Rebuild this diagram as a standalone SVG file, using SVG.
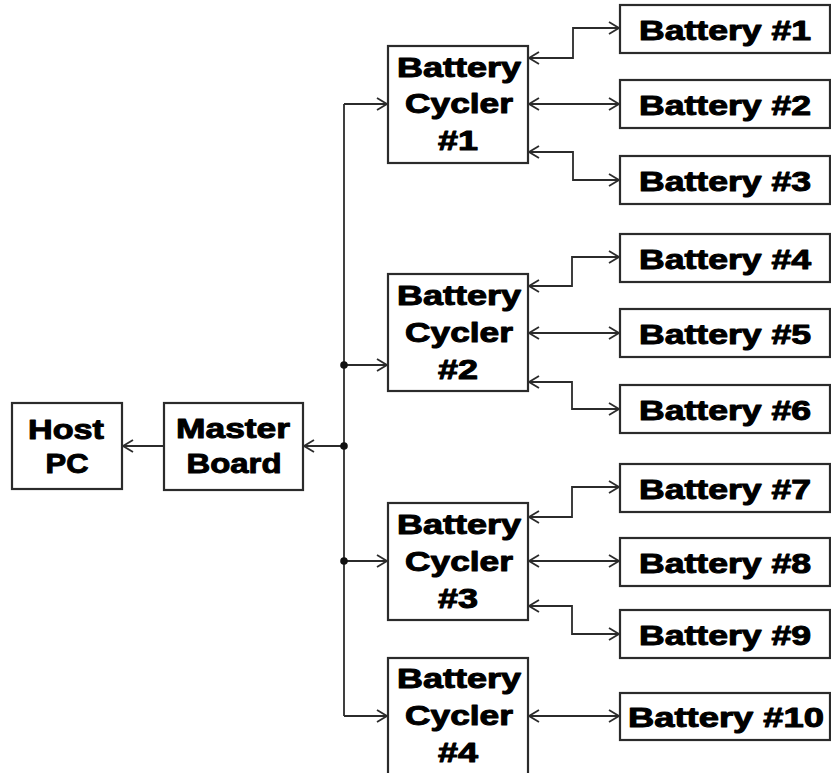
<svg xmlns="http://www.w3.org/2000/svg" width="831" height="773" viewBox="0 0 831 773">
<style>
  .box { fill: #ffffff; stroke: #2b2b2b; stroke-width: 2.2; }
  .t { font-family: "Liberation Sans", Arial, sans-serif; font-weight: bold; fill: #000; stroke: #000; stroke-width: 1; stroke-linejoin: round; text-anchor: middle; }
  .s { font-size: 27px; }
  .l { font-size: 28.5px; }
  .c { fill: none; stroke: #2b2b2b; stroke-width: 1.8; }
  .a { marker-end: url(#arr); }
  .b { marker-start: url(#arr); marker-end: url(#arr); }
</style>
<defs>
  <marker id="arr" markerUnits="userSpaceOnUse" markerWidth="14" markerHeight="16" refX="11" refY="7" orient="auto-start-reverse" viewBox="0 0 14 14">
    <path d="M1,1 L11,7 L1,13" fill="none" stroke="#2b2b2b" stroke-width="1.8"/>
  </marker>
</defs>
<rect width="831" height="773" fill="#ffffff"/>

<g id="connectors">
  <path class="c a" d="M163,446 H123"/>
  <path class="c a" d="M344,446 H304"/>
  <path class="c" d="M344,104 V716"/>
  <path class="c a" d="M344,104 H387"/>
  <path class="c a" d="M344,365 H387"/>
  <path class="c a" d="M344,561 H387"/>
  <path class="c a" d="M344,716 H387"/>
  <circle cx="344" cy="365" r="3.8" fill="#111"/>
  <circle cx="344" cy="446" r="3.8" fill="#111"/>
  <circle cx="344" cy="561" r="3.8" fill="#111"/>

  <path class="c b" d="M529,58 H573 V28 H619"/>
  <path class="c b" d="M529,104 H619"/>
  <path class="c b" d="M529,152 H573 V180 H619"/>

  <path class="c b" d="M529,286 H572 V257 H619"/>
  <path class="c b" d="M529,333 H619"/>
  <path class="c b" d="M529,382 H572 V409 H619"/>

  <path class="c b" d="M529,517 H572 V487 H619"/>
  <path class="c b" d="M529,561 H619"/>
  <path class="c b" d="M529,606 H572 V634 H619"/>

  <path class="c b" d="M529,716 H619"/>
</g>

<g id="host-pc">
  <rect class="box" x="12" y="403" width="110" height="86"/>
  <text class="t l" x="66" y="439" textLength="76" lengthAdjust="spacingAndGlyphs">Host</text>
  <text class="t l" x="67" y="473" textLength="43" lengthAdjust="spacingAndGlyphs">PC</text>
</g>
<g id="master-board">
  <rect class="box" x="164" y="403" width="139" height="87"/>
  <text class="t l" x="233" y="438" textLength="114" lengthAdjust="spacingAndGlyphs">Master</text>
  <text class="t l" x="234" y="473" textLength="95" lengthAdjust="spacingAndGlyphs">Board</text>
</g>

<g id="cycler-1">
  <rect class="box" x="388" y="46" width="140" height="117"/>
  <text class="t s" x="459" y="77" textLength="124" lengthAdjust="spacingAndGlyphs">Battery</text>
  <text class="t s" x="459" y="113" textLength="108" lengthAdjust="spacingAndGlyphs">Cycler</text>
  <text class="t s" x="458" y="150" textLength="40" lengthAdjust="spacingAndGlyphs">#1</text>
</g>
<g id="cycler-2">
  <rect class="box" x="388" y="274" width="140" height="117"/>
  <text class="t s" x="459" y="305" textLength="124" lengthAdjust="spacingAndGlyphs">Battery</text>
  <text class="t s" x="459" y="342" textLength="108" lengthAdjust="spacingAndGlyphs">Cycler</text>
  <text class="t s" x="458" y="379" textLength="40" lengthAdjust="spacingAndGlyphs">#2</text>
</g>
<g id="cycler-3">
  <rect class="box" x="388" y="503" width="140" height="117"/>
  <text class="t s" x="459" y="534" textLength="124" lengthAdjust="spacingAndGlyphs">Battery</text>
  <text class="t s" x="459" y="571" textLength="108" lengthAdjust="spacingAndGlyphs">Cycler</text>
  <text class="t s" x="458" y="608" textLength="40" lengthAdjust="spacingAndGlyphs">#3</text>
</g>
<g id="cycler-4">
  <rect class="box" x="388" y="658" width="140" height="120"/>
  <text class="t s" x="459" y="688" textLength="124" lengthAdjust="spacingAndGlyphs">Battery</text>
  <text class="t s" x="459" y="725" textLength="108" lengthAdjust="spacingAndGlyphs">Cycler</text>
  <text class="t s" x="458" y="762" textLength="40" lengthAdjust="spacingAndGlyphs">#4</text>
</g>

<g id="battery-1"><rect class="box" x="620" y="5" width="210" height="48"/><text class="t s" x="725" y="40" textLength="172" lengthAdjust="spacingAndGlyphs">Battery #1</text></g>
<g id="battery-2"><rect class="box" x="620" y="80" width="210" height="48"/><text class="t s" x="725" y="115" textLength="172" lengthAdjust="spacingAndGlyphs">Battery #2</text></g>
<g id="battery-3"><rect class="box" x="620" y="156" width="210" height="48"/><text class="t s" x="725" y="191" textLength="172" lengthAdjust="spacingAndGlyphs">Battery #3</text></g>
<g id="battery-4"><rect class="box" x="620" y="234" width="210" height="48"/><text class="t s" x="725" y="269" textLength="172" lengthAdjust="spacingAndGlyphs">Battery #4</text></g>
<g id="battery-5"><rect class="box" x="620" y="309" width="210" height="48"/><text class="t s" x="725" y="344" textLength="172" lengthAdjust="spacingAndGlyphs">Battery #5</text></g>
<g id="battery-6"><rect class="box" x="620" y="385" width="210" height="48"/><text class="t s" x="725" y="420" textLength="172" lengthAdjust="spacingAndGlyphs">Battery #6</text></g>
<g id="battery-7"><rect class="box" x="620" y="464" width="210" height="48"/><text class="t s" x="725" y="499" textLength="172" lengthAdjust="spacingAndGlyphs">Battery #7</text></g>
<g id="battery-8"><rect class="box" x="620" y="538" width="210" height="48"/><text class="t s" x="725" y="573" textLength="172" lengthAdjust="spacingAndGlyphs">Battery #8</text></g>
<g id="battery-9"><rect class="box" x="620" y="610" width="210" height="48"/><text class="t s" x="725" y="645" textLength="172" lengthAdjust="spacingAndGlyphs">Battery #9</text></g>
<g id="battery-10"><rect class="box" x="620" y="693" width="210" height="47"/><text class="t s" x="726" y="727" textLength="196" lengthAdjust="spacingAndGlyphs">Battery #10</text></g>
</svg>
